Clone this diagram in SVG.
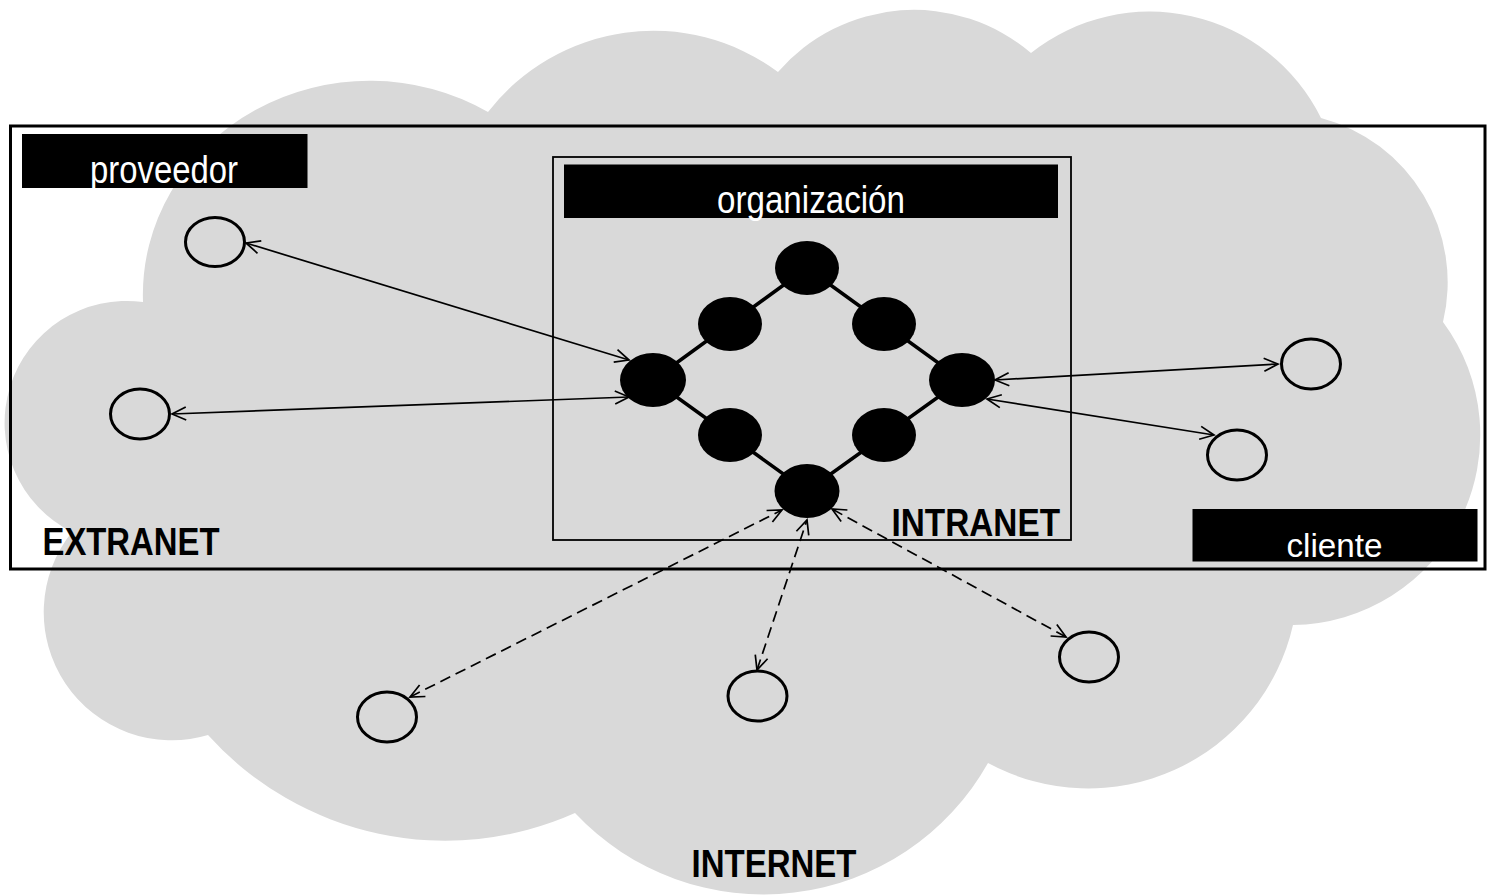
<svg xmlns="http://www.w3.org/2000/svg" width="1487" height="896" viewBox="0 0 1487 896">
<style>
.cloud{fill:#d9d9d9;stroke:none}
.frame{fill:none;stroke:#000;stroke-width:3}
.inner{fill:none;stroke:#000;stroke-width:1.8}
.lbl{fill:#000}
.lt{font-family:"Liberation Sans",Arial,sans-serif;font-size:38px;fill:#fff;text-anchor:middle}
.bt{font-family:"Liberation Sans",Arial,sans-serif;font-size:38px;font-weight:bold;fill:#000}
.node{fill:#000}
.ring{fill:none;stroke:#000;stroke-width:3}
.ring-line{fill:none;stroke:#000;stroke-width:3.5;stroke-linejoin:miter}
.conn{fill:none;stroke:#000;stroke-width:1.7;marker-start:url(#arr);marker-end:url(#arr)}
.dash{stroke-dasharray:11 6}
</style>
<defs>
<marker id="arr" viewBox="-16 -8 18 16" refX="0" refY="0" markerWidth="18" markerHeight="16" markerUnits="userSpaceOnUse" orient="auto-start-reverse">
<path d="M-14,-6.5 L0,0 L-14,6.5" fill="none" stroke="#000" stroke-width="1.7" stroke-dasharray="none"/>
</marker>
</defs>
<path id="cloud" class="cloud" d="M143,302 A227,214 0 0 1 488,112 A209,209 0 0 1 778,72 A180,180 0 0 1 1031,53 A191,191 0 0 1 1321,118 A170,170 0 0 1 1443,322 A190,190 0 0 1 1293,625 A210,210 0 0 1 988,763 A258,258 0 0 1 575,813 A319,319 0 0 1 208,735 A128,128 0 0 1 72,532 A122,122 0 0 1 143,302 Z"/>
<g id="extranet">
<rect class="frame" x="10.5" y="126" width="1474.5" height="443"/>
<text class="bt" x="42.5" y="555" textLength="177" lengthAdjust="spacingAndGlyphs">EXTRANET</text>
</g>
<g id="intranet">
<rect class="inner" x="553" y="157" width="518" height="383"/>
<text class="bt" x="891.5" y="535.5" textLength="168.5" lengthAdjust="spacingAndGlyphs">INTRANET</text>
</g>
<g id="internet-label">
<text class="bt" x="691.5" y="876.5" textLength="165" lengthAdjust="spacingAndGlyphs">INTERNET</text>
</g>
<g id="proveedor">
<rect class="lbl" x="22" y="134" width="285.5" height="54"/>
<text class="lt" x="164" y="183" textLength="148" lengthAdjust="spacingAndGlyphs">proveedor</text>
</g>
<g id="organizacion">
<rect class="lbl" x="564" y="164.5" width="494" height="53.5"/>
<text class="lt" x="811" y="213" textLength="188" lengthAdjust="spacingAndGlyphs">organización</text>
</g>
<g id="cliente">
<rect class="lbl" x="1192.5" y="509" width="285" height="52.5"/>
<text class="lt" x="1334.5" y="557" style="font-size:33px" textLength="96" lengthAdjust="spacingAndGlyphs">cliente</text>
</g>
<g id="connectors">
<line class="conn" x1="246" y1="243" x2="629" y2="360"/>
<line class="conn" x1="172" y1="414" x2="629" y2="397"/>
<line class="conn" x1="995" y1="380" x2="1278" y2="364"/>
<line class="conn" x1="987" y1="399" x2="1214" y2="435"/>
<line class="conn dash" x1="410" y1="697" x2="782" y2="510"/>
<line class="conn dash" x1="757" y1="670" x2="807" y2="520"/>
<line class="conn dash" x1="1066" y1="637" x2="832" y2="509"/>
<polygon class="ring-line" points="653,380 807,268 962,380 807,491"/>
</g>
<g id="n-top"><ellipse class="node" cx="807" cy="268" rx="32" ry="27"/></g>
<g id="n-ul"><ellipse class="node" cx="730" cy="324" rx="32" ry="27"/></g>
<g id="n-ur"><ellipse class="node" cx="884" cy="324" rx="32" ry="27"/></g>
<g id="n-left"><ellipse class="node" cx="653" cy="380" rx="33" ry="27"/></g>
<g id="n-right"><ellipse class="node" cx="962" cy="380" rx="33" ry="27"/></g>
<g id="n-ll"><ellipse class="node" cx="730" cy="435" rx="32" ry="27"/></g>
<g id="n-lr"><ellipse class="node" cx="884" cy="435" rx="32" ry="27"/></g>
<g id="n-bottom"><ellipse class="node" cx="807" cy="491" rx="32.5" ry="27"/></g>
<g id="prov1"><ellipse class="ring" cx="215" cy="242" rx="29.5" ry="24.5"/></g>
<g id="prov2"><ellipse class="ring" cx="140" cy="414" rx="29.5" ry="25"/></g>
<g id="cli1"><ellipse class="ring" cx="1311" cy="364" rx="29.5" ry="25"/></g>
<g id="cli2"><ellipse class="ring" cx="1237" cy="455" rx="29.5" ry="25"/></g>
<g id="inet1"><ellipse class="ring" cx="387" cy="717" rx="29.5" ry="25"/></g>
<g id="inet2"><ellipse class="ring" cx="757.5" cy="696" rx="29.5" ry="25"/></g>
<g id="inet3"><ellipse class="ring" cx="1089" cy="657" rx="29.5" ry="25"/></g>
</svg>
